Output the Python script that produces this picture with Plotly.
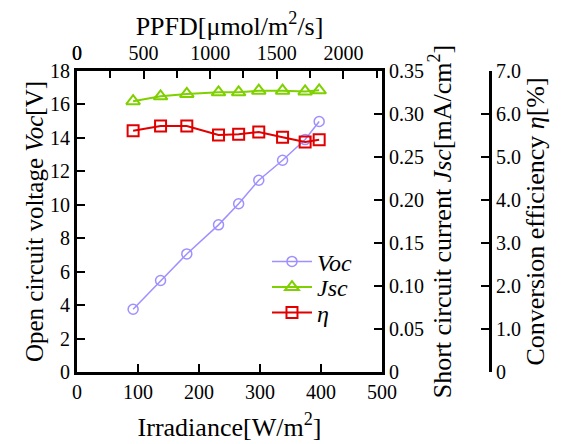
import plotly.graph_objects as go

irradiance = [92, 137, 180, 232, 265, 298, 337, 374, 397]
voc = [3.75, 5.47, 7.06, 8.80, 10.06, 11.47, 12.66, 13.90, 14.98]
jsc = [0.3149, 0.3206, 0.3233, 0.3252, 0.3252, 0.3271, 0.3271, 0.3262, 0.3275]
eta = [5.61, 5.72, 5.72, 5.51, 5.53, 5.58, 5.46, 5.35, 5.40]

ppfd_ticks = [0, 500, 1000, 1500, 2000]
jsc_ticks = [0, 0.05, 0.10, 0.15, 0.20, 0.25, 0.30, 0.35]
jsc_ticktext = ["0", "0.05", "0.10", "0.15", "0.20", "0.25", "0.30", "0.35"]
eta_ticks = [0, 1, 2, 3, 4, 5, 6, 7]
eta_ticktext = ["0", "1.0", "2.0", "3.0", "4.0", "5.0", "6.0", "7.0"]

C_VOC = "#9f90ff"
C_JSC = "#7fd000"
C_ETA = "#e00000"
FONT = "Liberation Serif, Times New Roman, DejaVu Serif, serif"
FS_TICK = 20
FS_TITLE = 26
FS_LEG = 24

fig = go.Figure()
fig.add_trace(go.Scatter(x=irradiance, y=voc, name="<i>Voc</i>", mode="lines+markers",
                         line=dict(color=C_VOC, width=1.5),
                         marker=dict(symbol="circle-open", size=10, color=C_VOC, line=dict(width=1.5)),
                         xaxis="x", yaxis="y", legend="legend"))
fig.add_trace(go.Scatter(x=irradiance, y=jsc, name="<i>Jsc</i>", mode="lines+markers",
                         line=dict(color=C_JSC, width=2),
                         marker=dict(symbol="triangle-up-open", size=12, color=C_JSC, line=dict(width=2)),
                         xaxis="x", yaxis="y2", legend="legend2"))
fig.add_trace(go.Scatter(x=irradiance, y=eta, name="<i>η</i>", mode="lines+markers",
                         line=dict(color=C_ETA, width=2),
                         marker=dict(symbol="square-open", size=11, color=C_ETA, line=dict(width=2)),
                         xaxis="x", yaxis="y3", legend="legend3"))
# empty trace so that the top PPFD axis is drawn
fig.add_trace(go.Scatter(x=[], y=[], xaxis="x2", yaxis="y", showlegend=False, hoverinfo="skip"))

dom = 305 / 413
axis_common = dict(showgrid=False, zeroline=False, showline=True, linecolor="black",
                   linewidth=3, ticks="inside", tickcolor="black", tickwidth=1.5, ticklen=8,
                   tickfont=dict(family=FONT, size=FS_TICK, color="black"))
tfont = dict(family=FONT, size=FS_TITLE, color="black")
tfont_y = dict(family=FONT, size=25, color="black")
lfont = dict(family=FONT, size=FS_LEG, color="black")

def leg(y):
    return dict(x=0.46, y=y, xanchor="left", yanchor="middle", bgcolor="rgba(0,0,0,0)",
                font=lfont, itemwidth=40)

fig.update_layout(
    width=568, height=444,
    margin=dict(l=69, r=86, t=58, b=80, pad=0),
    paper_bgcolor="white", plot_bgcolor="white",
    font=dict(family=FONT, size=FS_TICK, color="black"),
    showlegend=True,
    legend=leg(0.366),
    legend2=leg(0.281),
    legend3=leg(0.196),
    xaxis=dict(domain=[0, dom], range=[0, 500], dtick=100, anchor="y",
               title=dict(text="Irradiance[W/m<sup>2</sup>]", font=tfont, standoff=16),
               **axis_common),
    xaxis2=dict(domain=[0, dom], range=[0, 2290], tickmode="array", tickvals=ppfd_ticks,
                overlaying="x", side="top", anchor="y",
                minor=dict(ticks="inside", dtick=250, tick0=0, ticklen=7, tickcolor="black", tickwidth=1.5),
                title=dict(text="PPFD[μmol/m<sup>2</sup>/s]", font=tfont, standoff=4),
                **axis_common),
    yaxis=dict(range=[0, 18], dtick=2, anchor="x",
               title=dict(text="Open circuit voltage <i>Voc</i>[V]", font=tfont_y, standoff=0),
               **axis_common),
    yaxis2=dict(range=[0, 0.35], tickvals=jsc_ticks, ticktext=jsc_ticktext, overlaying="y", side="right", anchor="x",
                title=dict(text="Short circuit current <i>Jsc</i>[mA/cm<sup>2</sup>]", font=tfont, standoff=2),
                **axis_common),
    yaxis3=dict(range=[0, 7], tickvals=eta_ticks, ticktext=eta_ticktext, overlaying="y", side="right",
                anchor="free", position=1.0,
                title=dict(text="Conversion efficiency <i>η</i>[%]", font=tfont, standoff=2),
                **axis_common),
)

# the first PPFD tick label (plotly drops it at the shared corner)
fig.add_annotation(text=str(ppfd_ticks[0]), xref="x2", x=ppfd_ticks[0], yref="paper", y=1,
                   yanchor="middle", xanchor="center", yshift=18, showarrow=False,
                   font=dict(family=FONT, size=FS_TICK, color="black"))

fig.write_html("out.html")
